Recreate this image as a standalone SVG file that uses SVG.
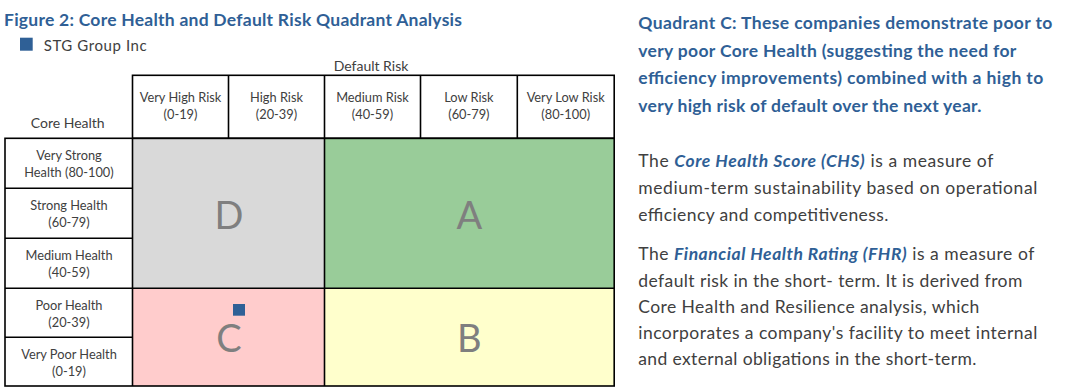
<svg xmlns="http://www.w3.org/2000/svg" width="1088" height="392" viewBox="0 0 1088 392">
<style>
text{font-family:Lato,"Open Sans","Liberation Sans",sans-serif}
.title{font-size:17.5px;font-weight:bold;fill:#2f5f96}
.leg{font-size:15px;fill:#404040}
.ax{font-size:14px;fill:#404040}
.cell{font-size:12.8px;fill:#404040;text-anchor:middle}
.grid{fill:none;stroke:#000;stroke-width:1.6}
.quad{font-size:38px;fill:#7f7f7f;text-anchor:middle}
.qc{font-size:17.5px;font-weight:bold;fill:#2f5f96}
.body{font-size:17.5px;fill:#404040}
.em{font-weight:bold;font-style:italic;fill:#2f5f96}
</style>
<g id="title">
<text class="title" x="4" y="25.7" textLength="458">Figure 2: Core Health and Default Risk Quadrant Analysis</text>
</g>
<g id="legend">
<rect x="20" y="37.7" width="12.7" height="13" fill="#2f6096"/>
<text class="leg" x="43.7" y="51" textLength="103">STG Group Inc</text>
</g>
<g id="axis-labels">
<text class="ax" x="371" y="71" text-anchor="middle">Default Risk</text>
<text class="ax" x="67.7" y="127.7" text-anchor="middle">Core Health</text>
</g>
<g id="quadrants">
<g id="quad-D"><rect x="132.5" y="138.3" width="192" height="150" fill="#d9d9d9"/><text class="quad" x="229" y="229">D</text></g>
<g id="quad-A"><rect x="324.5" y="138.3" width="289.7" height="150" fill="#99cc99"/><text class="quad" x="469.3" y="228.5">A</text></g>
<g id="quad-C"><rect x="132.5" y="288.3" width="192" height="97.7" fill="#ffcccc"/><text class="quad" x="229" y="351.7">C</text></g>
<g id="quad-B"><rect x="324.5" y="288.3" width="289.7" height="97.7" fill="#ffffcc"/><text class="quad" x="469.3" y="351.7">B</text></g>
</g>
<g id="grid-lines">
<rect class="grid" x="132.5" y="75.3" width="481.7" height="63"/>
<line class="grid" x1="228.5" y1="75.3" x2="228.5" y2="138.3"/>
<line class="grid" x1="324.5" y1="75.3" x2="324.5" y2="138.3"/>
<line class="grid" x1="420.5" y1="75.3" x2="420.5" y2="138.3"/>
<line class="grid" x1="517.3" y1="75.3" x2="517.3" y2="138.3"/>
<rect class="grid" x="5" y="138.3" width="609.2" height="247.7"/>
<line class="grid" x1="132.5" y1="138.3" x2="132.5" y2="386"/>
<line class="grid" x1="324.5" y1="138.3" x2="324.5" y2="386"/>
<line class="grid" x1="5" y1="288.3" x2="614.2" y2="288.3"/>
<line class="grid" x1="5" y1="188.3" x2="132.5" y2="188.3"/>
<line class="grid" x1="5" y1="238.3" x2="132.5" y2="238.3"/>
<line class="grid" x1="5" y1="337.3" x2="132.5" y2="337.3"/>
</g>
<g id="col-headers">
<text class="cell" x="180.5" y="102">Very High Risk</text><text class="cell" x="180.5" y="118.7">(0-19)</text>
<text class="cell" x="276.5" y="102">High Risk</text><text class="cell" x="276.5" y="118.7">(20-39)</text>
<text class="cell" x="372.5" y="102">Medium Risk</text><text class="cell" x="372.5" y="118.7">(40-59)</text>
<text class="cell" x="468.9" y="102">Low Risk</text><text class="cell" x="468.9" y="118.7">(60-79)</text>
<text class="cell" x="565.7" y="102">Very Low Risk</text><text class="cell" x="565.7" y="118.7">(80-100)</text>
</g>
<g id="row-headers">
<text class="cell" x="69" y="160">Very Strong</text><text class="cell" x="69" y="176.7">Health (80-100)</text>
<text class="cell" x="69" y="210">Strong Health</text><text class="cell" x="69" y="226.7">(60-79)</text>
<text class="cell" x="69" y="260">Medium Health</text><text class="cell" x="69" y="276.7">(40-59)</text>
<text class="cell" x="69" y="310">Poor Health</text><text class="cell" x="69" y="326.7">(20-39)</text>
<text class="cell" x="69" y="359">Very Poor Health</text><text class="cell" x="69" y="375.7">(0-19)</text>
</g>
<g id="marker-stg">
<rect x="233" y="304" width="12" height="11.7" fill="#2f6096"/>
</g>
<g id="quadrant-c-text">
<text class="qc" x="638.3" y="29.3" textLength="414">Quadrant C: These companies demonstrate poor to</text>
<text class="qc" x="638.3" y="56.7" textLength="378">very poor Core Health (suggesting the need for</text>
<text class="qc" x="638.3" y="84" textLength="405">efficiency improvements) combined with a high to</text>
<text class="qc" x="638.3" y="111.7" textLength="343">very high risk of default over the next year.</text>
</g>
<g id="chs-text">
<text class="body" x="638.3" y="167.3" textLength="355">The <tspan class="em">Core Health Score (CHS)</tspan> is a measure of</text>
<text class="body" x="638.3" y="194.3" textLength="399">medium-term sustainability based on operational</text>
<text class="body" x="638.3" y="220.7" textLength="250">efficiency and competitiveness.</text>
</g>
<g id="fhr-text">
<text class="body" x="638.3" y="260" textLength="396">The <tspan class="em">Financial Health Rating (FHR)</tspan> is a measure of</text>
<text class="body" x="638.3" y="287" textLength="384">default risk in the short- term. It is derived from</text>
<text class="body" x="638.3" y="313.3" textLength="341">Core Health and Resilience analysis, which</text>
<text class="body" x="638.3" y="339.3" textLength="399">incorporates a company's facility to meet internal</text>
<text class="body" x="638.3" y="365.3" textLength="338">and external obligations in the short-term.</text>
</g>
</svg>
